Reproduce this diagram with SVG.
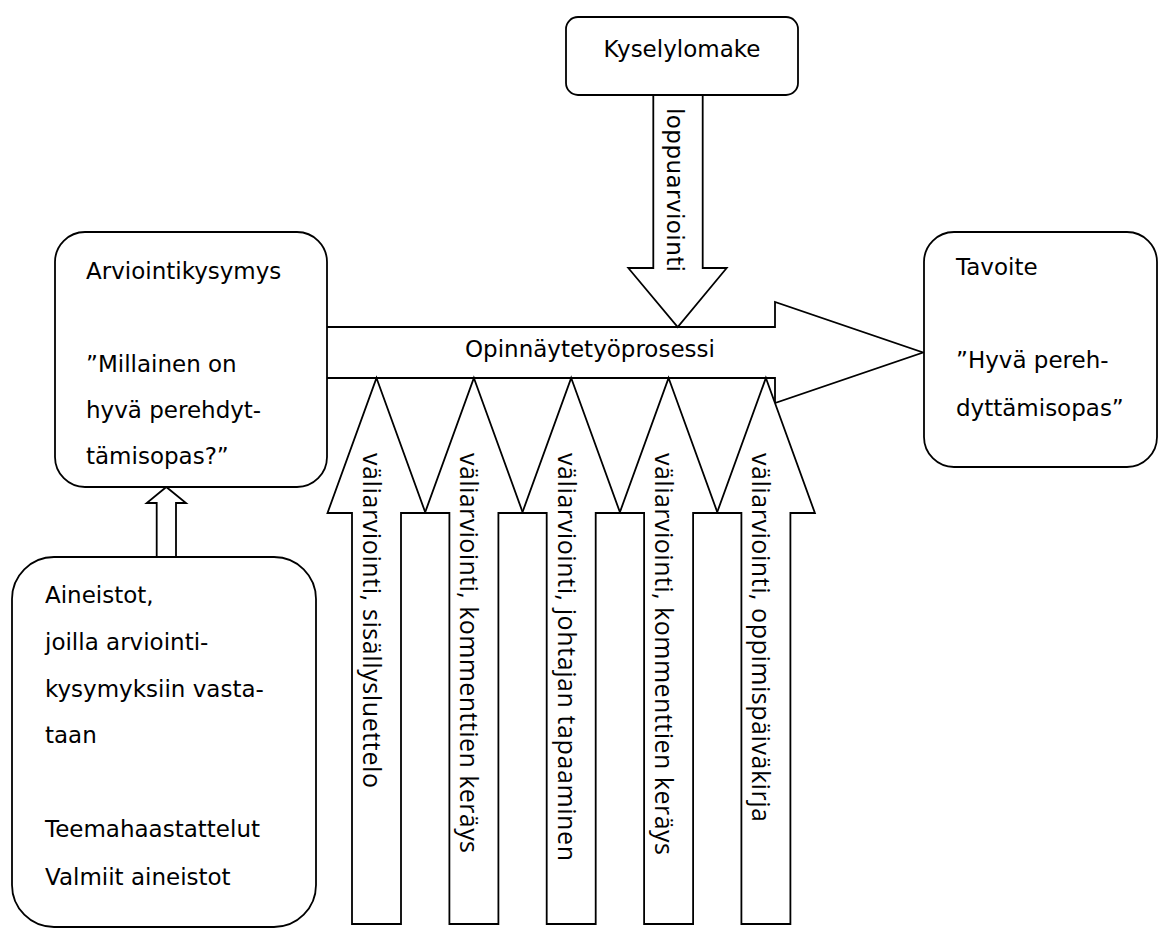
<svg xmlns="http://www.w3.org/2000/svg" width="1159" height="929" viewBox="0 0 1159 929">
  <style>
    .shape { fill: #ffffff; stroke: #000000; stroke-width: 1.8; stroke-linejoin: miter; }
    .lbl { font-family: "DejaVu Sans", Verdana, sans-serif; font-size: 23px; fill: #000000; }
    .vlbl { font-family: "Open Sans", "Liberation Sans", sans-serif; font-size: 25px; fill: #000000; }
    .vlbl2 { font-family: "DejaVu Sans", Verdana, sans-serif; font-size: 23px; fill: #000000; }
  </style>
  <rect width="1159" height="929" fill="#ffffff"/>

  <!-- block arrows -->
  <g id="connectors">
    <!-- main process arrow -->
    <path class="shape" d="M327,327 H775 V302 L923,352.5 L775,403 V378 H327"/>
    <!-- final evaluation arrow from the questionnaire -->
    <path class="shape" d="M653.3,95 V268 H628.3 L677.7,327 L726.7,268 H702.7 V95"/>
    <!-- interim evaluation arrows -->
    <path class="shape" d="M376.5,378 L425.5,513 H401 V924 H352 V513 H327.5 Z"/>
    <path class="shape" d="M473.9,378 L522.9,513 H498.4 V924 H449.4 V513 H424.9 Z"/>
    <path class="shape" d="M571.2,378 L620.2,513 H595.7 V924 H546.7 V513 H522.2 Z"/>
    <path class="shape" d="M668.6,378 L717.6,513 H693.1 V924 H644.1 V513 H619.6 Z"/>
    <path class="shape" d="M765.9,378 L814.9,513 H790.4 V924 H741.4 V513 H716.9 Z"/>
    <!-- materials to evaluation question -->
    <path class="shape" d="M156.7,557 V503 H146.7 L166.3,487 L186,503 H176 V557"/>

    <text class="lbl" x="465" y="357">Opinnäytetyöprosessi</text>
    <text class="vlbl2" transform="translate(667,108) rotate(90)" textLength="164" lengthAdjust="spacing">loppuarviointi</text>
    <text class="vlbl" transform="translate(363,453) rotate(90)" textLength="335" lengthAdjust="spacing">väliarviointi, sisällysluettelo</text>
    <text class="vlbl" transform="translate(460.4,453) rotate(90)" textLength="400" lengthAdjust="spacing">väliarviointi, kommenttien keräys</text>
    <text class="vlbl" transform="translate(557.7,453) rotate(90)" textLength="408" lengthAdjust="spacing">väliarviointi, johtajan tapaaminen</text>
    <text class="vlbl" transform="translate(655.1,453) rotate(90)" textLength="402" lengthAdjust="spacing">väliarviointi, kommenttien keräys</text>
    <text class="vlbl" transform="translate(752.4,453) rotate(90)" textLength="369" lengthAdjust="spacing">väliarviointi, oppimispäiväkirja</text>
  </g>

  <g id="kyselylomake">
    <rect class="shape" x="566" y="17" width="232" height="78" rx="12"/>
    <text class="lbl" x="682" y="57" text-anchor="middle">Kyselylomake</text>
  </g>

  <g id="arviointikysymys">
    <rect class="shape" x="55" y="232" width="272" height="255" rx="30"/>
    <text class="lbl" x="86" y="279">Arviointikysymys</text>
    <text class="lbl" x="86" y="372">”Millainen on</text>
    <text class="lbl" x="86" y="418">hyvä perehdyt-</text>
    <text class="lbl" x="86" y="464">tämisopas?”</text>
  </g>

  <g id="tavoite">
    <rect class="shape" x="924" y="232" width="233" height="235" rx="30"/>
    <text class="lbl" x="956" y="275">Tavoite</text>
    <text class="lbl" x="956" y="368">”Hyvä pereh-</text>
    <text class="lbl" x="956" y="416">dyttämisopas”</text>
  </g>

  <g id="aineistot">
    <rect class="shape" x="12" y="557" width="304" height="370" rx="42"/>
    <text class="lbl" x="45" y="603">Aineistot,</text>
    <text class="lbl" x="45" y="650">joilla arviointi-</text>
    <text class="lbl" x="45" y="697">kysymyksiin vasta-</text>
    <text class="lbl" x="45" y="743">taan</text>
    <text class="lbl" x="45" y="837">Teemahaastattelut</text>
    <text class="lbl" x="45" y="885">Valmiit aineistot</text>
  </g>
</svg>
